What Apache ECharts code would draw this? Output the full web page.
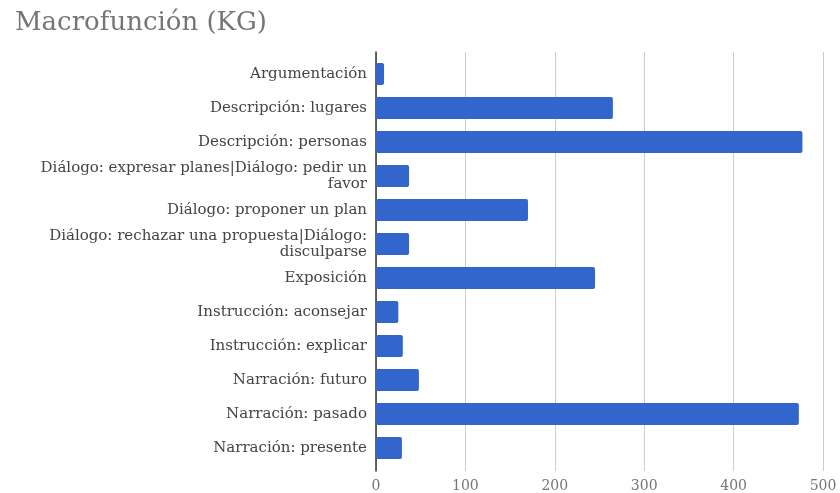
<!DOCTYPE html>
<html>
<head>
<meta charset="utf-8">
<script src="https://cdn.jsdelivr.net/npm/echarts@6/dist/echarts.min.js"></script>
<style>
  html, body { margin: 0; padding: 0; background: #fff; }
  #chart { width: 840px; height: 493px; }
</style>
</head>
<body>
<div id="chart"></div>
<script>
// Macrofunción (KG): counts per macro-function
const categories = [
  'Argumentación',
  'Descripción: lugares',
  'Descripción: personas',
  'Diálogo: expresar planes|Diálogo: pedir un\nfavor',
  'Diálogo: proponer un plan',
  'Diálogo: rechazar una propuesta|Diálogo:\ndisculparse',
  'Exposición',
  'Instrucción: aconsejar',
  'Instrucción: explicar',
  'Narración: futuro',
  'Narración: pasado',
  'Narración: presente'
];
const counts = [9, 265, 477, 37, 170, 37, 245, 25, 30, 48, 473, 29];
const xTicks = [0, 100, 200, 300, 400, 500];

const serif = 'DejaVu Serif';
const chart = echarts.init(document.getElementById('chart'));

chart.setOption({
  animation: false,
  backgroundColor: '#ffffff',
  title: {
    text: 'Macrofunción (KG)',
    left: 10,
    top: 5,
    textStyle: { fontFamily: serif, fontSize: 26, fontWeight: 'normal', color: '#757575' }
  },
  grid: [
    // frame: gridlines, baseline and tick labels
    { left: 376, right: 17, top: 52, bottom: 22 },
    // bars and category labels
    { left: 376, right: 17, top: 57, bottom: 28 }
  ],
  xAxis: [
    {
      gridIndex: 0,
      type: 'value',
      min: xTicks[0],
      max: xTicks[xTicks.length - 1],
      interval: xTicks[1] - xTicks[0],
      axisLine: { show: false },
      axisTick: { show: false },
      splitLine: { show: true, lineStyle: { color: '#cccccc', width: 1 } },
      axisLabel: { color: '#757575', fontFamily: serif, fontSize: 14, margin: 8 }
    },
    {
      gridIndex: 1,
      type: 'value',
      min: xTicks[0],
      max: xTicks[xTicks.length - 1],
      show: false
    }
  ],
  yAxis: [
    {
      gridIndex: 0,
      type: 'value',
      min: 0,
      max: 1,
      axisLine: { show: true, lineStyle: { color: '#333333', width: 1.5 } },
      axisTick: { show: false },
      axisLabel: { show: false },
      splitLine: { show: false }
    },
    {
      gridIndex: 1,
      type: 'category',
      inverse: true,
      data: categories,
      axisLine: { show: false },
      axisTick: { show: false },
      axisLabel: {
        color: '#444444',
        fontFamily: serif,
        fontSize: 15,
        lineHeight: 16,
        margin: 9,
        align: 'right'
      }
    }
  ],
  series: [
    {
      type: 'bar',
      xAxisIndex: 1,
      yAxisIndex: 1,
      data: counts,
      barCategoryGap: '35%',
      itemStyle: { color: '#3366cc', borderRadius: 2 }
    }
  ]
});
</script>
</body>
</html>
